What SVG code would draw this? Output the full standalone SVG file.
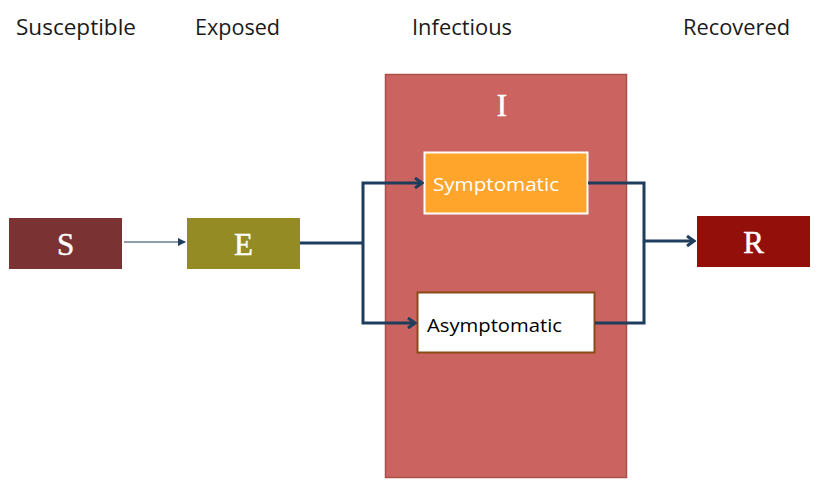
<svg xmlns="http://www.w3.org/2000/svg" width="817" height="487" viewBox="0 0 817 487">
  <style>
    .hdr { font-family: "Open Sans", "Liberation Sans", sans-serif; font-size: 22px; fill: #1a1a1a; }
    .big { font-family: "Liberation Serif", "DejaVu Serif", serif; font-size: 31px; fill: #ffffff; text-anchor: middle; stroke: #ffffff; stroke-width: 0.5; }
    .sub { font-family: "Open Sans", "Liberation Sans", sans-serif; font-size: 19px; }
    .link { fill: none; stroke: #1f3d5c; stroke-width: 3; stroke-linejoin: miter; }
  </style>
  <defs>
    <marker id="chev" markerWidth="10" markerHeight="12" refX="8" refY="6" orient="auto" markerUnits="userSpaceOnUse">
      <path d="M1,1 L8,6 L1,11" fill="none" stroke="#1f3d5c" stroke-width="3"/>
    </marker>
    <marker id="tri" markerWidth="8" markerHeight="10" refX="7" refY="5" orient="auto" markerUnits="userSpaceOnUse">
      <path d="M0,1 L8,5 L0,9 Z" fill="#1f3d5c"/>
    </marker>
  </defs>

  <rect width="817" height="487" fill="#ffffff"/>

  <!-- column headings -->
  <text class="hdr" x="16" y="35" textLength="120" lengthAdjust="spacingAndGlyphs">Susceptible</text>
  <text class="hdr" x="195" y="35" textLength="85" lengthAdjust="spacingAndGlyphs">Exposed</text>
  <text class="hdr" x="412" y="35" textLength="100" lengthAdjust="spacingAndGlyphs">Infectious</text>
  <text class="hdr" x="683" y="35" textLength="107" lengthAdjust="spacingAndGlyphs">Recovered</text>

  <!-- infectious compartment -->
  <g id="I">
    <rect x="385.5" y="74.5" width="241" height="403" fill="#cb6460" stroke="#a9504d" stroke-width="1.5"/>
    <text class="big" x="502" y="116">I</text>
  </g>

  <g id="S">
    <rect x="9" y="218" width="113" height="51" fill="#7b3232"/>
    <text class="big" x="65.5" y="255">S</text>
  </g>

  <g id="E">
    <rect x="187" y="218" width="113" height="51" fill="#948b25"/>
    <text class="big" x="243.5" y="255">E</text>
  </g>

  <g id="Symptomatic">
    <rect x="424.5" y="152.5" width="163" height="61" fill="#ffa52c" stroke="#ffffff" stroke-width="2"/>
    <text class="sub" x="433" y="191" fill="#ffffff" textLength="126" lengthAdjust="spacingAndGlyphs">Symptomatic</text>
  </g>

  <g id="Asymptomatic">
    <rect x="417.5" y="292.5" width="177" height="60" fill="#ffffff" stroke="#8b4a14" stroke-width="2"/>
    <text class="sub" x="427" y="332" fill="#000000" textLength="135" lengthAdjust="spacingAndGlyphs">Asymptomatic</text>
  </g>

  <g id="R">
    <rect x="697" y="216" width="113" height="51" fill="#930f0a"/>
    <text class="big" x="753.5" y="253">R</text>
  </g>

  <!-- connectors -->
  <g id="connectors">
    <line x1="124" y1="242" x2="185" y2="242" stroke="#8c9eae" stroke-width="2" marker-end="url(#tri)"/>
    <polyline class="link" points="300,243 363,243"/>
    <polyline class="link" points="363,243 363,183 422,183" marker-end="url(#chev)"/>
    <polyline class="link" points="363,243 363,323 415,323" marker-end="url(#chev)"/>
    <polyline class="link" points="588,183 644,183 644,323 595,323"/>
    <line class="link" x1="644" y1="241" x2="694" y2="241" marker-end="url(#chev)"/>
  </g>
</svg>
